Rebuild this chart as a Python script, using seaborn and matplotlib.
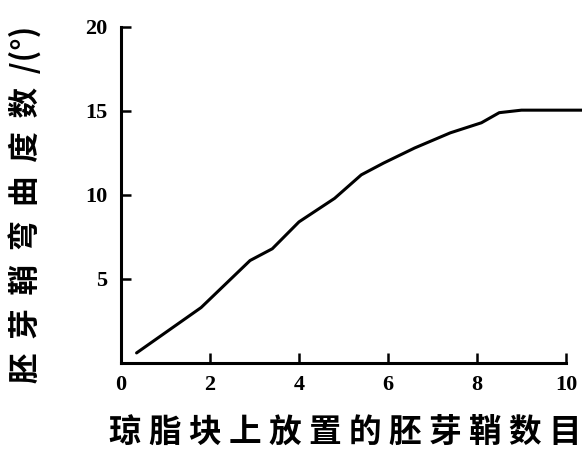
import matplotlib
matplotlib.use("Agg")
import matplotlib.pyplot as plt
import seaborn as sns
import pandas as pd

sns.set_theme(style="white")
plt.rcParams['font.family'] = ['Noto Sans CJK SC', 'DejaVu Sans']

# data
count = [0.35, 1.8, 2.9, 3.4, 4.0, 4.8, 5.4, 5.9, 6.6, 7.4, 8.1, 8.5, 9.0, 10.36]
angle = [0.6, 3.3, 6.1, 6.8, 8.4, 9.8, 11.2, 11.9, 12.8, 13.7, 14.3, 14.9, 15.05, 15.05]
xticks = [0, 2, 4, 6, 8, 10]
yticks = [5, 10, 15, 20]
xlabel = "琼脂块上放置的胚芽鞘数目"
ylabel = "胚芽鞘弯曲度数/(°)"

df = pd.DataFrame({"n": count, "deg": angle})

fig = plt.figure(figsize=(5.82, 4.53), dpi=100)
ax = fig.add_axes([121/582, 90/453, 461/582, 336/453])
sns.lineplot(data=df, x="n", y="deg", ax=ax, color="black", linewidth=2.2, clip_on=False)

ax.set_xlim(0, 10.36)
ax.set_ylim(0, 20)
ax.spines['top'].set_visible(False)
ax.spines['right'].set_visible(False)
for s in ['left', 'bottom']:
    ax.spines[s].set_color('black')
    ax.spines[s].set_linewidth(2.2)
ax.spines['bottom'].set_bounds(0, 10)

ax.set_xticks(xticks)
ax.set_yticks(yticks)
ax.set_xticklabels([str(v) for v in xticks], fontfamily='Liberation Serif', fontsize=16, fontweight='bold')
ax.set_yticklabels([str(v) for v in yticks], fontfamily='Liberation Serif', fontsize=16, fontweight='bold')
ax.tick_params(axis='both', direction='in', length=7, width=1.8, color='black',
               bottom=True, left=True, labelcolor='black')
ax.tick_params(axis='x', pad=9)
ax.tick_params(axis='y', pad=10)

spaced_x = " ".join(xlabel)
spaced_y = "  ".join(list("胚芽鞘弯曲度数")) + "  /(°)"
ax.set_xlabel(spaced_x, fontsize=23.5, fontweight='bold', color='black')
ax.xaxis.set_label_coords((345 - 121) / 461, -(449 - 363) / 336)
ax.xaxis.label.set_va('bottom')
ax.set_ylabel(spaced_y, fontsize=22, fontweight='bold', color='black')
ax.yaxis.set_label_coords(-0.17, (363 - 204) / 336)

fig.savefig("out.png", dpi=100)
